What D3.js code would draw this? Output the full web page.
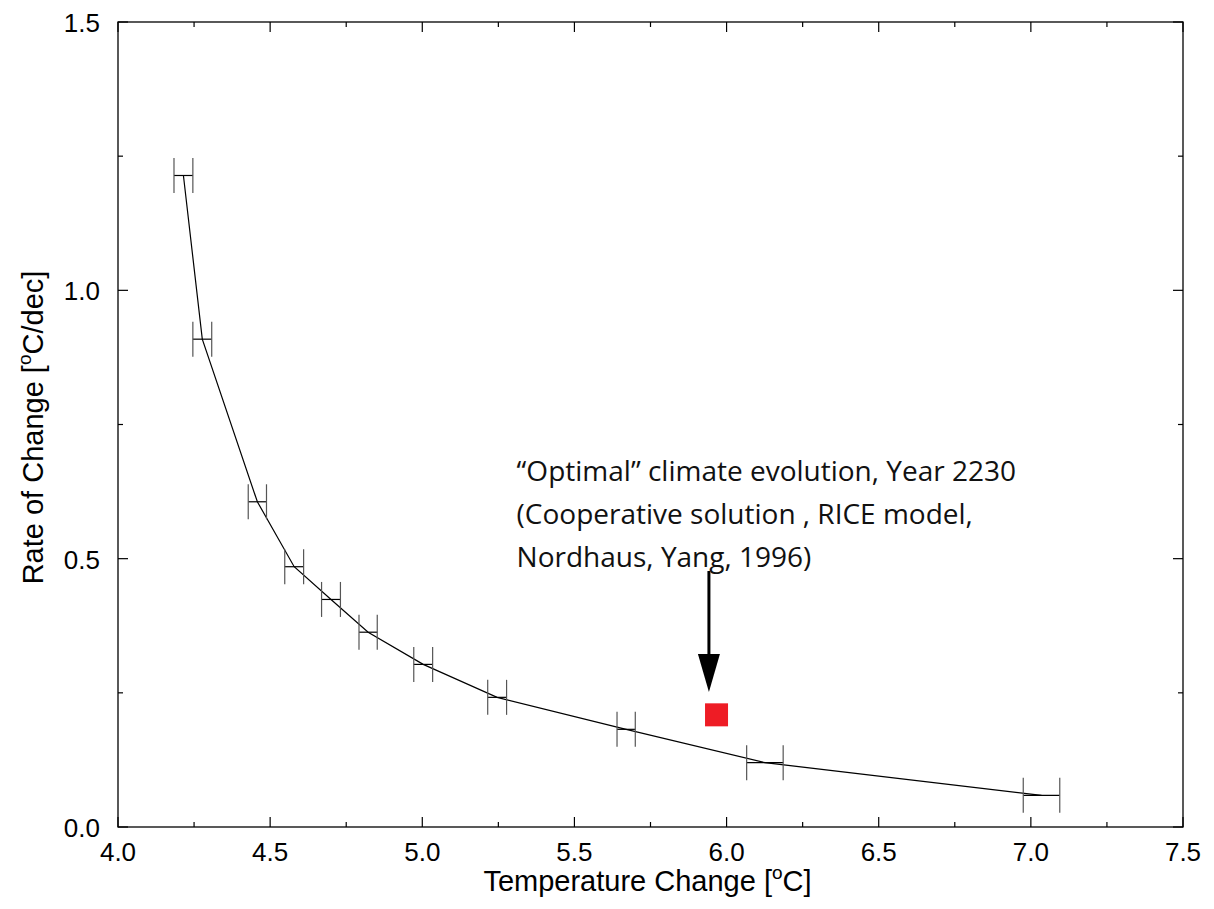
<!DOCTYPE html>
<html>
<head>
<meta charset="utf-8">
<script src="https://cdn.jsdelivr.net/npm/d3@7"></script>
<style>
  body { margin: 0; background: #fff; }
  svg { display: block; }
</style>
</head>
<body>
<div id="chart"></div>
<script>
// temperature change vs rate of change, with x error bars

const tempChange = [4.215, 4.277, 4.458, 4.579, 4.700, 4.822, 5.003, 5.246, 5.670, 6.126, 7.035];
const rateChange = [1.214, 0.909, 0.606, 0.485, 0.424, 0.363, 0.303, 0.2416, 0.182, 0.1198, 0.059];
const tempErr    = [0.031, 0.031, 0.030, 0.031, 0.031, 0.030, 0.031, 0.031, 0.030, 0.060, 0.060];

const optimalPoint = [5.967, 0.209];
const arrowFrom = [5.942, 0.477];
const arrowTo   = [5.942, 0.2515];
const noteAt    = [5.31, 0.645];
const noteLines = [
  "\u201COptimal\u201D climate evolution, Year 2230",
  "(Cooperative solution , RICE model,",
  "Nordhaus, Yang, 1996)"
];

const xTicks = [4.0, 4.5, 5.0, 5.5, 6.0, 6.5, 7.0, 7.5];
const xMinor = [4.25, 4.75, 5.25, 5.75, 6.25, 6.75, 7.25];
const yTicks = [0.0, 0.5, 1.0, 1.5];
const yMinor = [0.25, 0.75, 1.25];

const W = 1214, H = 909;
const m = { left: 118, right: 1183, top: 22, bottom: 827 };

const svg = d3.select("#chart").append("svg")
  .attr("width", W).attr("height", H);

const x = d3.scaleLinear().domain([4.0, 7.5]).range([m.left, m.right]);
const y = d3.scaleLinear().domain([0, 1.5]).range([m.bottom, m.top]);

const axisFont = "'Liberation Sans', Arial, sans-serif";

// frame
svg.append("rect")
  .attr("x", m.left).attr("y", m.top)
  .attr("width", m.right - m.left).attr("height", m.bottom - m.top)
  .attr("fill", "none").attr("stroke", "#000").attr("stroke-width", 1.3);

// inward ticks on all four sides
const ticks = svg.append("g").attr("stroke", "#000").attr("stroke-width", 1.2);
function xTick(v, len) {
  ticks.append("line").attr("x1", x(v)).attr("x2", x(v)).attr("y1", m.bottom).attr("y2", m.bottom - len);
  ticks.append("line").attr("x1", x(v)).attr("x2", x(v)).attr("y1", m.top).attr("y2", m.top + len);
}
function yTick(v, len) {
  ticks.append("line").attr("y1", y(v)).attr("y2", y(v)).attr("x1", m.left).attr("x2", m.left + len);
  ticks.append("line").attr("y1", y(v)).attr("y2", y(v)).attr("x1", m.right).attr("x2", m.right - len);
}
xTicks.forEach(v => xTick(v, 10));
xMinor.forEach(v => xTick(v, 5));
yTicks.forEach(v => yTick(v, 10));
yMinor.forEach(v => yTick(v, 5));

// tick labels
svg.append("g").selectAll("text").data(xTicks).join("text")
  .attr("x", d => x(d)).attr("y", 861)
  .attr("text-anchor", "middle")
  .style("font-family", axisFont).style("font-size", "26px")
  .text(d => d3.format(".1f")(d));

svg.append("g").selectAll("text").data(yTicks).join("text")
  .attr("x", m.left - 18).attr("y", d => y(d) + 10)
  .attr("text-anchor", "end")
  .style("font-family", axisFont).style("font-size", "26px")
  .text(d => d3.format(".1f")(d));

// axis titles
const xt = svg.append("text")
  .attr("x", (m.left + m.right) / 2 - 3).attr("y", 891)
  .attr("text-anchor", "middle")
  .style("font-family", axisFont).style("font-size", "29px");
xt.append("tspan").text("Temperature Change [");
xt.append("tspan").attr("dy", -12).style("font-size", "19px").text("o");
xt.append("tspan").attr("dy", 12).text("C]");

const yt = svg.append("text")
  .attr("transform", `translate(43,${(m.top + m.bottom) / 2 + 3}) rotate(-90)`)
  .attr("text-anchor", "middle")
  .style("font-family", axisFont).style("font-size", "29px");
yt.append("tspan").text("Rate of Change [");
yt.append("tspan").attr("dy", -12).style("font-size", "19px").text("o");
yt.append("tspan").attr("dy", 12).text("C/dec]");

// curve
const pts = tempChange.map((t, i) => [t, rateChange[i], tempErr[i]]);
svg.append("path")
  .datum(pts)
  .attr("fill", "none").attr("stroke", "#000").attr("stroke-width", 1.2)
  .attr("d", d3.line().x(d => x(d[0])).y(d => y(d[1])));

// error bars
const eb = svg.append("g").attr("stroke", "#000").attr("stroke-width", 1.2);
pts.forEach(d => {
  const cy = y(d[1]);
  eb.append("line").attr("x1", x(d[0] - d[2])).attr("x2", x(d[0] + d[2])).attr("y1", cy).attr("y2", cy);
  [d[0] - d[2], d[0] + d[2]].forEach(v => {
    eb.append("line").attr("x1", x(v)).attr("x2", x(v)).attr("y1", cy - 17.5).attr("y2", cy + 17.5)
      .attr("stroke", "#555");
  });
});

// red marker
svg.append("rect")
  .attr("x", x(optimalPoint[0]) - 11.5).attr("y", y(optimalPoint[1]) - 11.5)
  .attr("width", 23).attr("height", 23)
  .attr("fill", "#ee1c25");

// arrow
const ax = x(arrowFrom[0]);
const tipY = y(arrowTo[1]);
svg.append("line")
  .attr("x1", ax).attr("x2", ax).attr("y1", y(arrowFrom[1])).attr("y2", tipY - 36)
  .attr("stroke", "#000").attr("stroke-width", 3);
svg.append("path")
  .attr("d", `M${ax - 11},${tipY - 38} L${ax + 11},${tipY - 38} L${ax},${tipY} Z`)
  .attr("fill", "#000");

// annotation
const note = svg.append("text")
  .attr("x", x(noteAt[0])).attr("y", y(noteAt[1]))
  .style("font-family", "'Open Sans', sans-serif").style("font-size", "28px")
  .style("fill", "#111");
noteLines.forEach((t, i) => {
  note.append("tspan").attr("x", x(noteAt[0])).attr("dy", i === 0 ? 0 : 43).text(t);
});
</script>
</body>
</html>
